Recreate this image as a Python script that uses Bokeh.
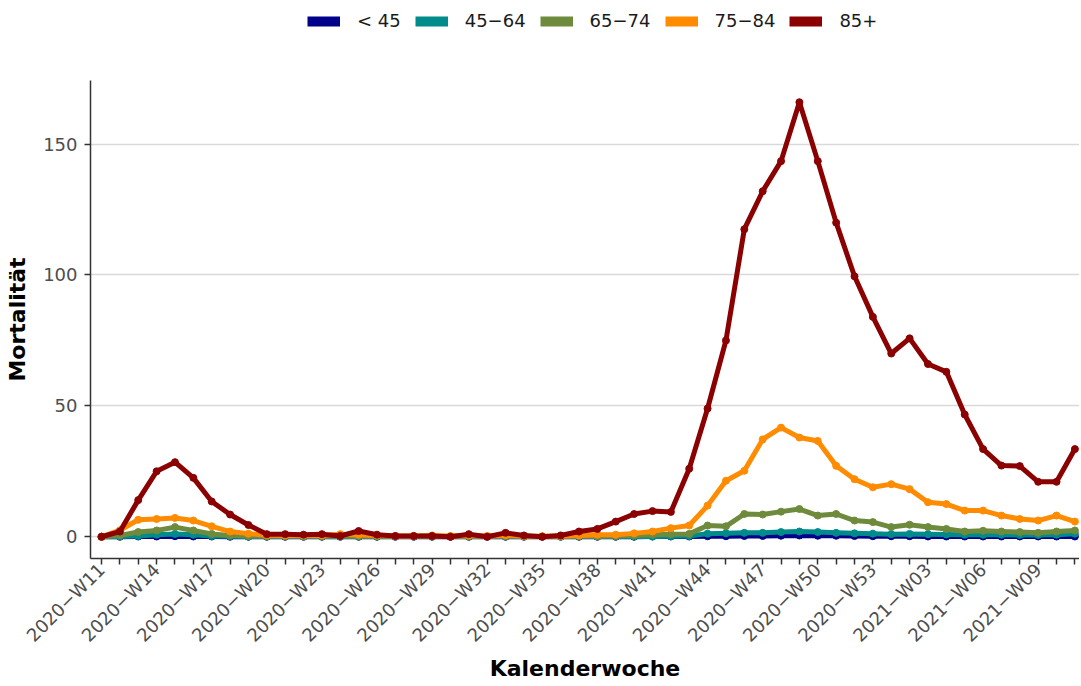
import math
from bokeh.plotting import figure
from bokeh.layouts import column
from bokeh.models import Legend, LegendItem, FixedTicker, ColumnDataSource, Range1d
from bokeh.embed import file_html
from bokeh.resources import INLINE

weeks = [f"2020\u2212W{w:02d}" for w in range(11, 54)] + [f"2021\u2212W{w:02d}" for w in range(1, 12)]

groups = ["< 45", "45\u221264", "65\u221274", "75\u221284", "85+"]
colors = ["#00008B", "#008B8B", "#6E8B3D", "#FF8C00", "#8B0000"]

v_lt45 = [0, 0, 0.1, 0.1, 0.2, 0.1, 0.1, 0, 0, 0, 0, 0, 0, 0, 0, 0, 0, 0, 0, 0,
          0, 0, 0, 0, 0, 0, 0, 0, 0, 0, 0.1, 0.1, 0.1, 0.2, 0.2, 0.3, 0.3, 0.4, 0.5, 0.4,
          0.4, 0.3, 0.2, 0.2, 0.2, 0.1, 0.1, 0.1, 0.1, 0.1, 0.1, 0.1, 0.1, 0.1]
v_45_64 = [0, 0.1, 0.3, 0.8, 1.1, 0.8, 0.3, 0.2, 0.1, 0.1, 0.1, 0.1, 0.1, 0.1, 0.1, 0.1, 0.1, 0.1, 0.1, 0.1,
           0.1, 0.1, 0.1, 0.1, 0.1, 0.1, 0.1, 0.1, 0.1, 0.1, 0.1, 0.2, 0.3, 1.2, 1.3, 1.5, 1.5, 1.8, 2.0, 1.8,
           1.5, 1.3, 1.2, 1.0, 1.1, 1.0, 0.9, 0.8, 0.8, 0.8, 0.7, 0.7, 0.8, 1.2]
v_65_74 = [0, 0.5, 1.8, 2.4, 3.7, 2.4, 1.1, 0.5, 0.3, 0.2, 0.2, 0.2, 0.2, 0.2, 0.3, 0.2, 0.1, 0.1, 0.1, 0.1,
           0.2, 0.1, 0.2, 0.1, 0.1, 0.1, 0.2, 0.2, 0.3, 0.5, 0.8, 1.0, 1.1, 4.3, 4.0, 8.7, 8.5, 9.6, 10.6, 8.1,
           8.7, 6.2, 5.6, 3.7, 4.6, 3.7, 3.0, 2.0, 2.3, 2.0, 1.8, 1.5, 2.0, 2.4]
v_75_84 = [0, 2.5, 6.5, 6.8, 7.2, 6.2, 4.0, 2.0, 1.2, 0.6, 0.5, 0.5, 0.5, 1.0, 0.8, 0.5, 0.3, 0.3, 0.5, 0.3,
           0.5, 0.3, 0.6, 0.3, 0.2, 0.3, 0.5, 0.8, 0.8, 1.3, 2.0, 3.3, 4.3, 11.9, 21.4, 25.2, 37.2, 41.7, 37.9, 36.6,
           27.1, 22.0, 18.9, 20.1, 18.2, 13.2, 12.5, 10.0, 10.0, 8.1, 6.8, 6.2, 8.1, 5.8]
v_85p = [0, 2.0, 14.0, 25.0, 28.5, 22.5, 13.5, 8.5, 4.5, 1.0, 1.0, 0.8, 1.0, 0.3, 2.2, 0.8, 0.3, 0.3, 0.3, 0.0,
         1.0, 0.0, 1.5, 0.5, 0.0, 0.5, 2.0, 3.0, 5.8, 8.7, 9.8, 9.5, 26.0, 49.0, 75.0, 117.5, 132.0, 143.5, 166.0, 143.5,
         120.0, 99.5, 84.0, 70.0, 75.8, 66.0, 63.0, 46.7, 33.5, 27.2, 27.0, 21.0, 21.0, 33.5]

series = [v_lt45, v_45_64, v_65_74, v_75_84, v_85p]
y_ticks = [0, 50, 100, 150]

FONT = "DejaVu Sans"
x_idx = list(range(len(weeks)))

# ---- legend strip -------------------------------------------------------
lf = figure(width=1079, height=40, output_backend="svg", toolbar_location=None,
            x_range=Range1d(0, 1), y_range=Range1d(0, 1),
            x_axis_type=None, y_axis_type=None,
            min_border_left=0, min_border_right=0, min_border_top=0, min_border_bottom=0)
lf.outline_line_color = None
lf.xgrid.visible = False
lf.ygrid.visible = False

legend_items = []
for name, col in zip(groups, colors):
    dummy = lf.line([-10, -9], [-10, -10], line_color=col, line_width=10, line_cap="butt")
    legend_items.append(LegendItem(label=name, renderers=[dummy]))

legend = Legend(items=legend_items, orientation="horizontal", location=(217, 9),
                glyph_width=33, glyph_height=12, label_standoff=17, spacing=14,
                padding=0, margin=0, border_line_alpha=0, background_fill_alpha=0,
                label_text_font=FONT, label_text_font_size="18px", label_text_color="#1a1a1a")
lf.add_layout(legend, "center")

# ---- main plot ----------------------------------------------------------
p = figure(width=1079, height=644, output_backend="svg", toolbar_location=None,
           x_range=Range1d(-0.6, 53.25), y_range=Range1d(-8.3, 174.3),
           min_border_left=90, min_border_right=0, min_border_top=40, min_border_bottom=122)
p.outline_line_color = None
p.background_fill_color = "white"

for name, col, vals in zip(groups, colors, series):
    src = ColumnDataSource(dict(x=x_idx, y=vals))
    p.line("x", "y", source=src, line_color=col, line_width=5, line_join="round")
    p.scatter("x", "y", source=src, size=7, fill_color=col, line_color=col)

p.xaxis.ticker = FixedTicker(ticks=x_idx)
p.xaxis.major_label_overrides = {i: (w if i % 3 == 0 else "") for i, w in enumerate(weeks)}
p.xaxis.major_label_orientation = math.pi / 4
p.yaxis.ticker = FixedTicker(ticks=y_ticks)

for ax in (p.xaxis[0], p.yaxis[0]):
    ax.axis_line_color = "#333333"
    ax.axis_line_width = 1.5
    ax.major_tick_line_color = "#333333"
    ax.major_tick_line_width = 1.5
    ax.major_tick_out = 6
    ax.major_tick_in = 0
    ax.minor_tick_line_color = None
    ax.major_label_text_font = FONT
    ax.major_label_text_font_size = "18px"
    ax.major_label_text_color = "#4d4d4d"
    ax.axis_label_text_font = FONT
    ax.axis_label_text_font_size = "22px"
    ax.axis_label_text_font_style = "bold"
    ax.axis_label_text_color = "black"

p.xaxis.axis_label = "Kalenderwoche"
p.yaxis.axis_label = "Mortalität"
p.xaxis.major_label_standoff = 2
p.yaxis.major_label_standoff = 7
p.xaxis.axis_label_standoff = 0
p.yaxis.axis_label_standoff = 10

p.xgrid.grid_line_color = None
p.ygrid.grid_line_color = "#d9d9d9"
p.ygrid.grid_line_width = 1.5

layout = column(lf, p, spacing=0)
open("out.html", "w").write(file_html(layout, INLINE))
